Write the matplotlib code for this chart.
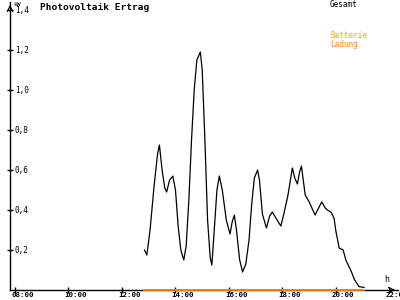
import numpy as np
import matplotlib
matplotlib.use('Agg')
import matplotlib.pyplot as plt
from matplotlib.ticker import FuncFormatter
from matplotlib.transforms import ScaledTranslation

# Gesamt (kW) over the day, hours as decimal
hours = [12.84, 12.93, 13.05, 13.20, 13.33, 13.40, 13.50, 13.60, 13.67, 13.78,
         13.90, 14.00, 14.10, 14.20, 14.31, 14.40, 14.50, 14.60, 14.70, 14.80,
         14.93, 15.00, 15.10, 15.20, 15.30, 15.36, 15.45, 15.55, 15.64, 15.75,
         15.90, 16.04, 16.12, 16.20, 16.28, 16.40, 16.51, 16.63, 16.75, 16.85,
         16.95, 17.07, 17.14, 17.25, 17.40, 17.52, 17.62, 17.80, 17.94, 18.05,
         18.20, 18.37, 18.46, 18.56, 18.64, 18.71, 18.85, 19.00, 19.10, 19.22,
         19.35, 19.47, 19.60, 19.68, 19.81, 19.93, 19.99, 20.12, 20.27, 20.37,
         20.55, 20.70, 20.86, 21.05]
gesamt = [0.20, 0.175, 0.30, 0.52, 0.68, 0.725, 0.60, 0.51, 0.49, 0.55,
          0.57, 0.50, 0.32, 0.20, 0.15, 0.22, 0.45, 0.75, 1.00, 1.15,
          1.19, 1.10, 0.75, 0.35, 0.16, 0.125, 0.30, 0.50, 0.57, 0.50,
          0.35, 0.28, 0.34, 0.375, 0.30, 0.15, 0.09, 0.13, 0.25, 0.43,
          0.56, 0.60, 0.55, 0.38, 0.31, 0.37, 0.39, 0.35, 0.32, 0.38,
          0.47, 0.61, 0.56, 0.53, 0.59, 0.62, 0.475, 0.44, 0.41, 0.375,
          0.41, 0.44, 0.41, 0.40, 0.39, 0.36, 0.30, 0.21, 0.20, 0.15,
          0.10, 0.05, 0.017, 0.013]

# Batterie Ladung
ladung_hours = [12.84, 21.05]
ladung = [0.0, 0.0]

xticks = [8, 10, 12, 14, 16, 18, 20, 22]
xlabels = ['08:00', '10:00', '12:00', '14:00', '16:00', '18:00', '20:00', '22:00']
yticks = [0.2, 0.4, 0.6, 0.8, 1.0, 1.2, 1.4]

font = 'DejaVu Sans Mono'
fig = plt.figure(figsize=(4, 3), dpi=100)
ax = fig.add_axes([0.025, 10 / 300, 0.97, 288 / 300])

ax.plot(hours, gesamt, color='black', lw=0.9)
ax.plot(ladung_hours, ladung, color='#ff8000', lw=1.3, clip_on=False, zorder=5)

ax.set_xlim(7.813, 22.32)
ax.set_ylim(0, 1.44)
for s in ['top', 'right']:
    ax.spines[s].set_visible(False)
ax.spines['left'].set_linewidth(1)
ax.spines['bottom'].set_linewidth(1)

ax.set_xticks(xticks)
ax.set_xticklabels(xlabels, fontfamily=font, fontsize=5.3, fontweight='bold')
ax.set_yticks(yticks)
ax.yaxis.set_major_formatter(FuncFormatter(lambda v, p: ('%.1f' % v).replace('.', ',')))
ax.tick_params(axis='both', direction='inout', length=5, width=1, color='black')
ax.tick_params(axis='x', pad=-0.8)
ax.tick_params(axis='y', pad=-6)

for lab in ax.get_xticklabels():
    lab.set_horizontalalignment('left')
    lab.set_transform(lab.get_transform() + ScaledTranslation(-4 / 100, 0, fig.dpi_scale_trans))
for lab in ax.get_yticklabels():
    lab.set_horizontalalignment('left')
    lab.set_fontfamily(font)
    lab.set_fontsize(5.5)

# axis arrows
ax.annotate('', xy=(0, 1.0), xytext=(0, 0.97), xycoords='axes fraction',
            arrowprops=dict(arrowstyle='->', color='black', lw=0.8))
ax.annotate('', xy=(1.0, 0), xytext=(0.97, 0), xycoords='axes fraction',
            arrowprops=dict(arrowstyle='->', color='black', lw=0.8))

fig.text(40 / 400, 1 - 8 / 300, 'Photovoltaik Ertrag', fontfamily=font, fontsize=6.8,
         fontweight='bold', va='center')
fig.text(13 / 400, 1 - 4 / 300, 'kW', fontfamily=font, fontsize=4.5, va='center')
fig.text(384 / 400, 1 - 280 / 300, 'h', fontfamily=font, fontsize=6, va='center')
fig.text(330 / 400, 1 - 4.5 / 300, 'Gesamt', fontfamily=font, fontsize=5.5, va='center')
fig.text(330 / 400, 1 - 35.5 / 300, 'Batterie', fontfamily=font, fontsize=5.5,
         va='center', color='#ffaa00')
fig.text(330 / 400, 1 - 44 / 300, 'Ladung', fontfamily=font, fontsize=5.5,
         va='center', color='#ff8000')

plt.savefig('out.png', dpi=100)
